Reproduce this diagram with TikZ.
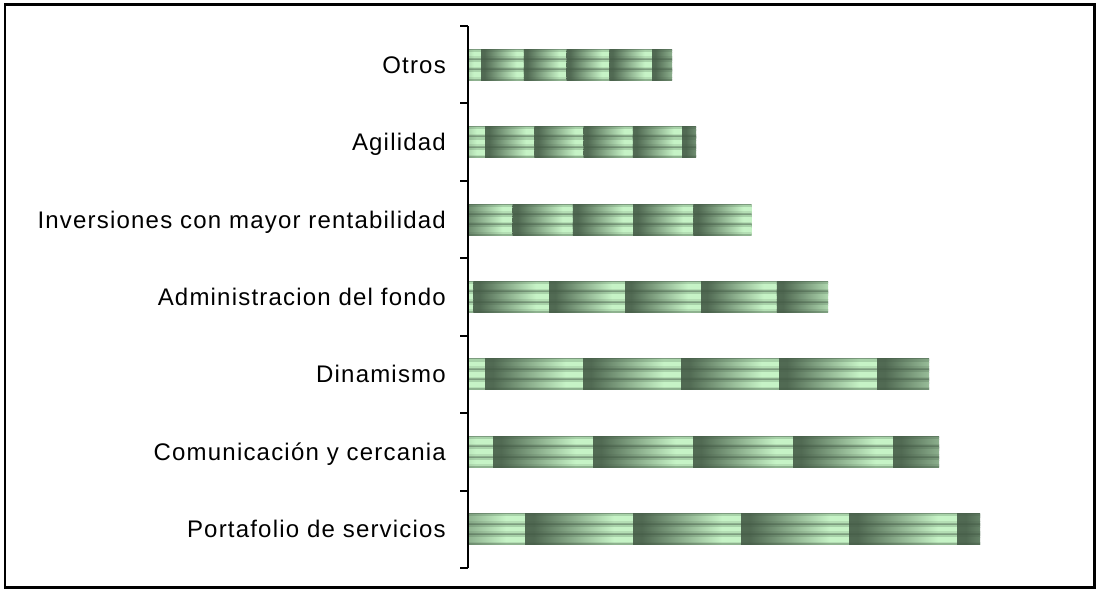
\documentclass[tikz,border=0pt]{standalone}
\usepackage{fontspec}
\setmainfont{Liberation Sans}[LetterSpace=5]
\definecolor{dA}{HTML}{48604A}
\definecolor{lA}{HTML}{7C9C7E}
\definecolor{dB}{HTML}{4E6650}
\definecolor{lB}{HTML}{A8D2A9}
\definecolor{dC}{HTML}{516A53}
\definecolor{lC}{HTML}{C6F3C6}
\definecolor{dD}{HTML}{4F6751}
\definecolor{lD}{HTML}{B4DEB4}
\definecolor{dE}{HTML}{4A624C}
\definecolor{lE}{HTML}{8EB28F}
\pgfdeclarehorizontalshading{bandA}{100bp}{color(0bp)=(dA); color(25bp)=(dA); color(29bp)=(dA); color(66bp)=(lA); color(100bp)=(lA)}
\pgfdeclarehorizontalshading{bandB}{100bp}{color(0bp)=(dB); color(25bp)=(dB); color(29bp)=(dB); color(66bp)=(lB); color(100bp)=(lB)}
\pgfdeclarehorizontalshading{bandC}{100bp}{color(0bp)=(dC); color(25bp)=(dC); color(29bp)=(dC); color(66bp)=(lC); color(100bp)=(lC)}
\pgfdeclarehorizontalshading{bandD}{100bp}{color(0bp)=(dD); color(25bp)=(dD); color(29bp)=(dD); color(66bp)=(lD); color(100bp)=(lD)}
\pgfdeclarehorizontalshading{bandE}{100bp}{color(0bp)=(dE); color(25bp)=(dE); color(29bp)=(dE); color(66bp)=(lE); color(100bp)=(lE)}
\tikzset{
  lab/.style={anchor=base east, inner sep=0pt, font=\fontsize{24}{28}\selectfont},
  axisline/.style={line width=2pt, black},
  frameline/.style={line width=2.5pt, black}
}
\begin{document}
\begin{tikzpicture}[x=1pt,y=-1pt]
\useasboundingbox (0,0) rectangle (1096,589);
\draw[frameline] (5,4.5) rectangle (1094.5,587.5);
% bars
\foreach \i/\xe/\b/\w/\lab in {0/672/481/42.75/Otros,
  1/696/485/49.25/Agilidad,
  2/751.5/512.7/60.2/Inversiones con mayor rentabilidad,
  3/828/473.3/75.9/Administracion del fondo,
  4/929/485/98/Dinamismo,
  5/939/493/100/Comunicación y cercania,
  6/980/525/108/Portafolio de servicios}{
  \pgfmathsetmacro\cy{26+(\i+0.5)*77.43}
  \pgfmathsetmacro\yt{\cy-15.5}
  \begin{scope}
    \clip (469,\yt) rectangle (\xe,\yt+31);
    \foreach \k in {0,...,6}{
      \pgfmathsetmacro\xa{\b+(\k-1)*\w}
      \pgfmathsetmacro\xb{\xa+\w+0.5}
      \foreach \s in {0,1,2}{
        \pgfmathsetmacro\ys{\yt+\s*31/3}
        \shade[shading=bandA] (\xa,\ys) rectangle (\xb,\ys+1.3);
        \shade[shading=bandB] (\xa,\ys+1.0) rectangle (\xb,\ys+3.4);
        \shade[shading=bandC] (\xa,\ys+3.1) rectangle (\xb,\ys+8.05);
        \shade[shading=bandD] (\xa,\ys+7.75) rectangle (\xb,\ys+9.6);
        \shade[shading=bandE] (\xa,\ys+9.3) rectangle (\xb,\ys+10.7);
      }
    }
  \end{scope}
  \node[lab] (l\i) at (446,\cy+8.5) {\lab};
}
% axis
\coordinate (axtop) at (468,26);
\coordinate (axbot) at (468,568);
\draw[axisline] (axtop) -- (axbot);
\foreach \j in {0,...,7}{
  \coordinate (t\j) at (468,26+\j*77.43);
  \draw[axisline] (t\j) -- ++(-8,0);
}
\end{tikzpicture}
\end{document}
